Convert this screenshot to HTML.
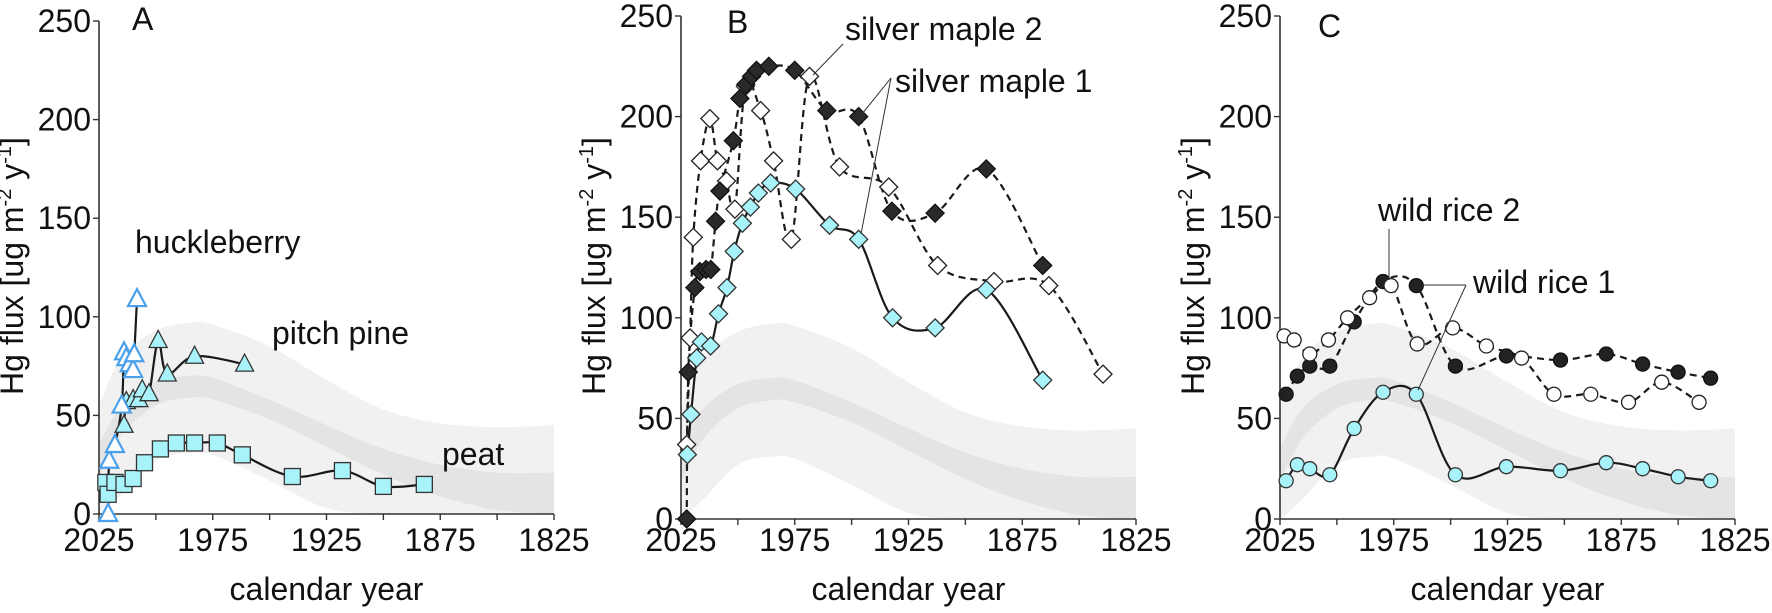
<!DOCTYPE html>
<html><head><meta charset="utf-8">
<style>
html,body{margin:0;padding:0;background:#fff;width:1772px;height:613px;overflow:hidden;}
svg{display:block;font-family:"Liberation Sans",sans-serif;overflow:hidden;}
</style></head>
<body>
<svg id="fig" width="1772" height="613" viewBox="0 0 1772 613"></svg>
<script>
// ---- shared axis/tick data ----
const yTicks = [0, 50, 100, 150, 200, 250];
const xMinorTicks = [2025, 2000, 1975, 1950, 1925, 1900, 1875, 1850, 1825];
const xTickLabels = [2025, 1975, 1925, 1875, 1825];
// band envelopes (years and flux values)
const bandYears = [2030, 2025, 2015, 2000, 1985, 1975, 1950, 1925, 1900, 1875, 1850, 1825];
const outerTop = [40, 55, 80, 93, 97, 96, 85, 68, 53, 46, 44, 45];
const innerTop = [20, 35, 55, 67, 70, 69, 58, 45, 33, 25, 21, 21];
const innerBot = [0, 18, 40, 55, 59, 58, 48, 34, 20, 9, 2, 0];
const outerBot = [0, 0, 10, 27, 31, 30, 17, 3, 0, 0, 0, 0];

// ---- panel A ----
const peatYears = [2022, 2021, 2018, 2014, 2010, 2005, 1998, 1991, 1983, 1973, 1962, 1940, 1918, 1900, 1882];
const peatVals = [16, 10, 16, 15, 18, 26, 33, 36, 36, 36, 30, 19, 22, 14, 15];
const pineYears = [2014, 2013, 2010, 2007.5, 2006, 2003, 1999, 1995, 1983, 1961];
const pineVals = [45, 57, 58, 58, 63, 61, 88, 71, 80, 76];
const huckYears = [2021, 2020.5, 2018, 2015, 2014, 2013, 2011.5, 2010, 2009.5, 2008.3];
const huckVals = [0, 27, 35, 55, 82, 79, 76, 73, 81, 109];

// ---- panel B ----
const sm1cYears = [2022.2, 2020.6, 2018.1, 2016, 2012, 2008.5, 2004.8, 2001.6, 1998, 1994.5, 1991, 1985.6, 1974.6, 1959.7, 1946.9, 1932, 1913.3, 1890.8, 1866];
const sm1cVals = [32, 52, 80, 88, 86, 102, 115, 133, 147, 155, 162, 167, 164, 146, 139, 100, 95, 114, 69];
const sm1bYears = [2022.5, 2021.8, 2018.9, 2016.7, 2014, 2011.9, 2009.8, 2007.9, 2002, 1999.1, 1996.5, 1994, 1991.8, 1986.4, 1975, 1960.9, 1946.9, 1932.3, 1913.3, 1890.8, 1866];
const sm1bVals = [0, 73, 115, 123, 124, 124, 148, 163, 188, 209, 216, 220, 223, 225, 223, 203, 200, 153, 152, 174, 126];
const sm2Years = [2022.5, 2021, 2019.6, 2016.4, 2012.3, 2009, 2005, 2001.3, 1996.7, 1990, 1984.3, 1976.5, 1968.5, 1955.3, 1933.7, 1912.2, 1887.4, 1863.3, 1839.5];
const sm2Vals = [37, 90, 140, 178, 199, 178, 168, 154, 215, 203, 178, 139, 220, 175, 165, 126, 118, 116, 72];

// ---- panel C ----
const wr1Years = [2022.3, 2017.4, 2011.9, 2003.1, 1992.4, 1979.7, 1965.1, 1947.9, 1925.5, 1901.7, 1881.6, 1865.6, 1850, 1835.7];
const wr1Vals = [19, 27, 25, 22, 45, 63, 62, 22, 26, 24, 28, 25, 21, 19];
const wr2bYears = [2022.3, 2017.4, 2011.9, 2003.1, 1992.4, 1979.7, 1965.1, 1947.9, 1925.5, 1901.7, 1881.6, 1865.6, 1850, 1835.7];
const wr2bVals = [62, 71, 76, 76, 98, 118, 116, 76, 81, 79, 82, 77, 73, 70];
const wr2wYears = [2023.2, 2018.8, 2011.9, 2003.7, 1995.3, 1985.6, 1976.2, 1964.7, 1949.1, 1934.3, 1918.8, 1904.6, 1888.4, 1871.8, 1857.2, 1840.8];
const wr2wVals = [91, 89, 82, 89, 100, 110, 116, 87, 95, 86, 80, 62, 62, 58, 68, 58];

const NS = "http://www.w3.org/2000/svg";
const svg = document.getElementById('fig');
const CYAN = "#a8f3fa", BLUE = "#4aa0ea";

function mk(tag, attrs, parent) {
  const e = document.createElementNS(NS, tag);
  for (const k in attrs) e.setAttribute(k, attrs[k]);
  (parent || svg).appendChild(e);
  return e;
}

function makePanel(x0, yZero, yTop) {
  const pxPerYear = 455 / 200;
  return {
    x0, yZero, yTop,
    sx: y => x0 + (2025 - y) * pxPerYear,
    sy: v => yZero - v * (yZero - yTop) / 250
  };
}

function smoothPath(pts) {
  if (pts.length < 2) return "";
  let d = "M" + pts[0][0].toFixed(1) + "," + pts[0][1].toFixed(1);
  for (let i = 0; i < pts.length - 1; i++) {
    const p0 = pts[i - 1] || pts[i], p1 = pts[i], p2 = pts[i + 1], p3 = pts[i + 2] || p2;
    const t = 6;
    const c1 = [p1[0] + (p2[0] - p0[0]) / t, p1[1] + (p2[1] - p0[1]) / t];
    const c2 = [p2[0] - (p3[0] - p1[0]) / t, p2[1] - (p3[1] - p1[1]) / t];
    d += "C" + c1[0].toFixed(1) + "," + c1[1].toFixed(1) + " " + c2[0].toFixed(1) + "," + c2[1].toFixed(1) + " " + p2[0].toFixed(1) + "," + p2[1].toFixed(1);
  }
  return d;
}

function drawAxes(P, id, letter, letterX, letterY) {
  const g = mk('g', {});
  
  
  const xEnd = P.sx(1825);
  const ya = mk('line', {x1: P.x0, y1: P.yTop, x2: P.x0, y2: P.yZero, stroke: '#333', 'stroke-width': 1.6}, g);
  
  
  const xa = mk('line', {x1: P.x0, y1: P.yZero, x2: xEnd, y2: P.yZero, stroke: '#333', 'stroke-width': 1.6}, g);
  
  
  yTicks.forEach(v => {
    const y = P.sy(v);
    mk('line', {x1: P.x0 - 6, y1: y, x2: P.x0, y2: y, stroke: '#333', 'stroke-width': 1.4}, g);
    const t = mk('text', {x: P.x0 - 8, y: y + 11, 'text-anchor': 'end', 'font-size': 32, fill: '#111'}, g);
    t.textContent = v;
    
    
  });
  xMinorTicks.forEach(yr => {
    const x = P.sx(yr);
    mk('line', {x1: x, y1: P.yZero, x2: x, y2: P.yZero + 6, stroke: '#333', 'stroke-width': 1.4}, g);
  });
  xTickLabels.forEach(yr => {
    const t = mk('text', {x: P.sx(yr), y: 551, 'text-anchor': 'middle', 'font-size': 32, fill: '#111'}, g);
    t.textContent = yr;
    
    
  });
  const xt = mk('text', {x: (P.x0 + xEnd) / 2 + 0, y: 600, 'text-anchor': 'middle', 'font-size': 32, fill: '#111'}, g);
  xt.textContent = 'calendar year';
  
  
  const cx = P.x0 - 76, cy = 266;
  const yt = mk('text', {x: cx, y: cy, 'text-anchor': 'middle', 'font-size': 32, fill: '#111', transform: 'rotate(-90 ' + cx + ' ' + cy + ')'}, g);
  yt.innerHTML = 'Hg flux [ug m<tspan dy="-12" font-size="20">-2</tspan><tspan dy="12"> y</tspan><tspan dy="-12" font-size="20">-1</tspan><tspan dy="12">]</tspan>';
  
  
  const pl = mk('text', {x: letterX, y: letterY, 'font-size': 32, fill: '#111'}, g);
  pl.textContent = letter;
  
  
}

function drawBands(P, id) {
  const cp = mk('clipPath', {id: 'clip' + id});
  mk('rect', {x: P.x0, y: P.yTop, width: P.sx(1825) - P.x0, height: P.yZero - P.yTop}, cp);
  const g = mk('g', {'clip-path': 'url(#clip' + id + ')'});
  
  
  function band(top, bot, fill, name) {
    const tp = bandYears.map((y, i) => [P.sx(y), P.sy(top[i])]);
    const bp = bandYears.map((y, i) => [P.sx(y), P.sy(bot[i])]).reverse();
    const d = smoothPath(tp) + smoothPath(bp).replace('M', 'L') + 'Z';
    const p = mk('path', {d: d, fill: fill}, g);
    
    
  }
  band(outerTop, outerBot, '#f0f1f0', 'outer-band');
  band(innerTop, innerBot, '#e4e4e4', 'inner-band');
}

function drawLine(P, years, vals, dashed, name) {
  const pts = years.map((y, i) => [P.sx(y), P.sy(vals[i])]);
  const p = mk('path', {d: smoothPath(pts), fill: 'none', stroke: '#1a1a1a', 'stroke-width': 2.2, 'stroke-dasharray': dashed ? '7,5' : 'none'});
  
  
}

function drawMarkers(P, years, vals, shape, fill, stroke, name) {
  const g = mk('g', {});
  
  
  years.forEach((yr, i) => {
    const x = P.sx(yr), y = P.sy(vals[i]);
    let e;
    if (shape === 'square') e = mk('rect', {x: x - 8, y: y - 8, width: 16, height: 16, fill: fill, stroke: stroke, 'stroke-width': 1.3}, g);
    else if (shape === 'tri') e = mk('polygon', {points: `${x},${y - 10} ${x + 9},${y + 7} ${x - 9},${y + 7}`, fill: fill, stroke: stroke, 'stroke-width': stroke === BLUE ? 2.2 : 1.3}, g);
    else if (shape === 'diamond') e = mk('polygon', {points: `${x},${y - 9} ${x + 9},${y} ${x},${y + 9} ${x - 9},${y}`, fill: fill, stroke: stroke, 'stroke-width': 1.3}, g);
    else e = mk('circle', {cx: x, cy: y, r: 7, fill: fill, stroke: stroke, 'stroke-width': 1.3}, g);
    
    
  });
}

function label(x, y, txt, name) {
  const t = mk('text', {x: x, y: y, 'font-size': 32, fill: '#111'});
  t.textContent = txt;
  
  
}
function leader(x1, y1, x2, y2, name) {
  const l = mk('line', {x1, y1, x2, y2, stroke: '#333', 'stroke-width': 1});
  
  
}

// Panel A
const A = makePanel(99, 514, 21);
drawBands(A, 'A');
drawAxes(A, 'A', 'A', 132, 30);
drawLine(A, peatYears, peatVals, false, 'peat-line');
drawLine(A, pineYears, pineVals, false, 'pitch-pine-line');
drawLine(A, huckYears, huckVals, false, 'huckleberry-line');
drawMarkers(A, peatYears, peatVals, 'square', CYAN, '#333', 'peat');
drawMarkers(A, pineYears, pineVals, 'tri', CYAN, '#333', 'pitch-pine');
drawMarkers(A, huckYears, huckVals, 'tri', '#fff', BLUE, 'huckleberry');
label(135, 253, 'huckleberry', 'huckleberry-label');
label(272, 344, 'pitch pine', 'pitch-pine-label');
label(442, 465, 'peat', 'peat-label');

// Panel B
const B = makePanel(681, 519, 16);
drawBands(B, 'B');
drawAxes(B, 'B', 'B', 727, 33);
drawLine(B, sm2Years, sm2Vals, true, 'silver-maple-2-line');
drawLine(B, sm1bYears, sm1bVals, true, 'silver-maple-1-dark-line');
drawLine(B, sm1cYears, sm1cVals, false, 'silver-maple-1-line');
drawMarkers(B, sm2Years, sm2Vals, 'diamond', '#fff', '#222', 'silver-maple-2');
drawMarkers(B, sm1bYears, sm1bVals, 'diamond', '#2a2a2a', '#111', 'silver-maple-1-dark');
drawMarkers(B, sm1cYears, sm1cVals, 'diamond', CYAN, '#333', 'silver-maple-1');
label(845, 40, 'silver maple 2', 'silver-maple-2-label');
label(895, 92, 'silver maple 1', 'silver-maple-1-label');
leader(843, 44, 813, 75, 'silver-maple-2-leader');
leader(891, 78, 862, 114, 'silver-maple-1-leader-dark');
leader(891, 78, 861, 234, 'silver-maple-1-leader-cyan');

// Panel C
const C = makePanel(1280, 519, 16);
drawBands(C, 'C');
drawAxes(C, 'C', 'C', 1318, 37);
drawLine(C, wr2wYears, wr2wVals, true, 'wild-rice-2-open-line');
drawLine(C, wr2bYears, wr2bVals, true, 'wild-rice-2-line');
drawLine(C, wr1Years, wr1Vals, false, 'wild-rice-1-line');
drawMarkers(C, wr2bYears, wr2bVals, 'circle', '#222', '#111', 'wild-rice-2');
drawMarkers(C, wr2wYears, wr2wVals, 'circle', '#fff', '#222', 'wild-rice-2-open');
drawMarkers(C, wr1Years, wr1Vals, 'circle', CYAN, '#333', 'wild-rice-1');
label(1378, 221, 'wild rice 2', 'wild-rice-2-label');
label(1473, 293, 'wild rice 1', 'wild-rice-1-label');
leader(1389, 229, 1389, 280, 'wild-rice-2-leader');
leader(1466, 285, 1424, 285, 'wild-rice-1-leader-a');
leader(1466, 285, 1418, 390, 'wild-rice-1-leader-b');
</script>
</body></html>
